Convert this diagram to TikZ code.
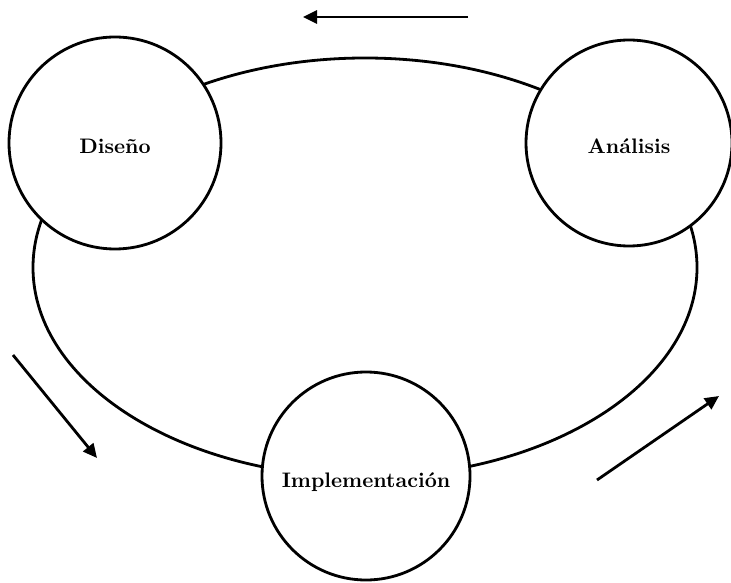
\documentclass[tikz,border=0pt]{standalone}
\usepackage{fontspec}
\usetikzlibrary{arrows.meta}

\begin{document}
\begin{tikzpicture}
  [
    x=0.5pt, y=-0.5pt,
    fase/.style =
      {draw, circle, fill=white, line width=1.4pt, inner sep=0pt,
       text height=11pt, text depth=0pt,
       font=\fontsize{10.5}{12}\selectfont\bfseries},
    ciclo/.style =
      {draw, line width=1.4pt},
    flecha/.style =
      {->, >={Triangle[length=7pt, width=6.5pt]}, line width=1.4pt}
  ]

\useasboundingbox (0,0) rectangle (731,582);

% the cycle behind the phases
\draw [ciclo] (365,267.5) ellipse [x radius=166pt, y radius=104.75pt];

\node[fase, minimum size=106pt] (d) at (115,143) {Diseño};
\node[fase, minimum size=103pt] (a) at (629,143) {Análisis};
\node[fase, minimum size=104pt] (i) at (366,476) {Implementación};

% direction of the cycle
\coordinate (t1) at (468,17);
\coordinate (t2) at (303,17);
\coordinate (l1) at (13,355);
\coordinate (l2) at (97,458);
\coordinate (r1) at (597,480);
\coordinate (r2) at (719,396);

\draw [flecha] (t1) -- (t2);
\draw [flecha] (l1) -- (l2);
\draw [flecha] (r1) -- (r2);

\end{tikzpicture}
\end{document}
